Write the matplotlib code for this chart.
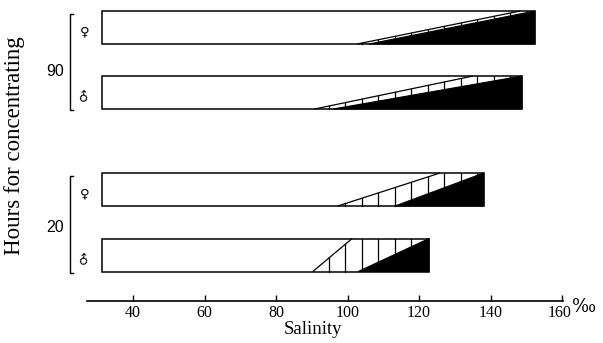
import matplotlib
matplotlib.use('Agg')
import matplotlib.pyplot as plt
import matplotlib.transforms as mtransforms
from matplotlib.patches import Polygon
import numpy as np

# ---------------- data ----------------
hours = ['90', '20']
sexes = ['♀', '♂', '♀', '♂']
bar_start = [31.2, 31.2, 31.2, 31.2]
bar_end = [152.4, 148.8, 138.1, 122.8]
hatch_start = [102.7, 90.8, 97.3, 90.3]
hatch_top = [148.3, 135.1, 125.9, 101.3]
black_start = [106.0, 96.0, 113.3, 103.0]
black_top = [152.4, 148.8, 138.1, 122.8]
xticks = [40, 60, 80, 100, 120, 140, 160]
xtick_labels = ['40', '60', '80', '100', '120', '140', '160']
x_unit = '‰'
xlabel = 'Salinity'
ylabel = 'Hours for concentrating'

# ---------------- layout ----------------
W, H = 603, 343
fig = plt.figure(figsize=(W / 100, H / 100), dpi=100)
PX0, V0, PPU = 133.0, 40.0, 3.575


def v(px):
    return V0 + (px - PX0) / PPU


ax_left, ax_right, ax_bottom_px = 87, 563, 301
ax = fig.add_axes([ax_left / W, (H - ax_bottom_px) / H,
                   (ax_right - ax_left) / W, ax_bottom_px / H])
ax.set_xlim(v(ax_left), v(ax_right))
ax.set_ylim(ax_bottom_px, 0)

row_y = [27.5, 92.5, 189.5, 255.0]
bar_h = 33.0
hatch_step = 4.62
hatch_phase = 104.0
serif = 'Liberation Serif'

for i in range(4):
    c = row_y[i]
    y0, y1 = c - bar_h / 2, c + bar_h / 2
    ax.barh(c, bar_end[i] - bar_start[i], left=bar_start[i], height=bar_h,
            facecolor='white', edgecolor='black', linewidth=1.1, zorder=2)
    poly = Polygon([(black_start[i], y1), (black_top[i], y0),
                    (bar_end[i], y0), (bar_end[i], y1)], closed=True,
                   facecolor='black', edgecolor='black', linewidth=0.8, zorder=3)
    ax.add_patch(poly)
    ax.plot([hatch_start[i], hatch_top[i]], [y1, y0], color='black',
            linewidth=0.9, zorder=3, solid_capstyle='butt')
    k0 = int(np.floor((hatch_start[i] - hatch_phase) / hatch_step))
    k1 = int(np.ceil((bar_end[i] - hatch_phase) / hatch_step))
    for k in range(k0, k1 + 1):
        g = hatch_phase + k * hatch_step
        if g <= hatch_start[i] or g >= bar_end[i]:
            continue
        if g < hatch_top[i]:
            yu = y1 - (g - hatch_start[i]) / (hatch_top[i] - hatch_start[i]) * bar_h
        else:
            yu = y0
        if g < black_start[i]:
            yb = y1
        elif g < black_top[i]:
            yb = y1 - (g - black_start[i]) / (black_top[i] - black_start[i]) * bar_h
        else:
            yb = y0
        if yb - yu > 0.5:
            ax.plot([g, g], [yb, yu], color='black', linewidth=0.9, zorder=3)

# sex symbols
for i in range(4):
    rot = 45 if sexes[i] == '♂' else 0
    ax.text(v(85), row_y[i] + 4, sexes[i], ha='center', va='center',
            fontsize=9.5, family='DejaVu Sans', rotation=rot,
            rotation_mode='anchor', clip_on=False)

# group brackets
group_label_y = [72, 227]
for gi in range(2):
    top = row_y[2 * gi] - bar_h / 2 + 3
    bot = row_y[2 * gi + 1] + bar_h / 2 + 1
    bx = v(70)
    ax.plot([v(73), bx, bx, v(73)], [top, top, bot, bot], color='black',
            linewidth=1.0, clip_on=False)
    ax.text(v(55), group_label_y[gi], hours[gi], ha='center', va='center',
            fontsize=11.5, family='Liberation Sans', clip_on=False)

# axes styling
for s in ['top', 'left', 'right']:
    ax.spines[s].set_visible(False)
ax.spines['bottom'].set_linewidth(1.2)
ax.set_yticks([])
ax.set_xticks(xticks)
ax.set_xticklabels(xtick_labels, family=serif, fontsize=11.5)
ax.tick_params(axis='x', direction='in', length=4, width=1, pad=3)
offset = mtransforms.ScaledTranslation(-2 / 100, 0, fig.dpi_scale_trans)
labels = ax.get_xticklabels()
labels[-1].set_transform(labels[-1].get_transform() + offset)

fig.text(572 / W, 1 - 312 / H, x_unit, ha='left', va='baseline',
         fontsize=13, family='DejaVu Serif')
fig.text(313 / W, 1 - 330 / H, xlabel, ha='center', va='center',
         fontsize=13.5, family=serif)
fig.text(15 / W, 1 - 146 / H, ylabel, ha='center', va='center',
         rotation=90, fontsize=16.5, family=serif)

fig.savefig('out.png', dpi=100)
